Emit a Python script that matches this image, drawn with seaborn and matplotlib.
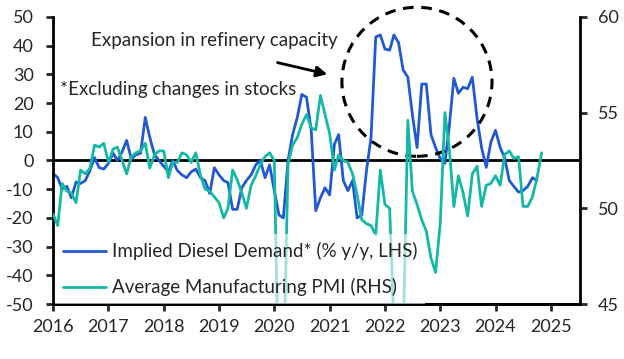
import pandas as pd
import matplotlib
matplotlib.use("Agg")
import matplotlib.pyplot as plt
import seaborn as sns
from matplotlib.patches import Ellipse

# Implied diesel demand, % y/y (LHS), monthly from Jan 2016
diesel_2016 = [-4.5, -6, -10, -9, -13, -7.5, -8, -7, -3.5, 1, -2.5, -3]
diesel_2017 = [-1, 2.5, 0, 3, 7, 0.5, 2, 2.5, 15, 8, 2, 0]
diesel_2018 = [-2, -4, 0, -3.5, -5, -6, -4, -3, -6, -7, -11.5, -2.5]
diesel_2019 = [-5, -7, -7.7, -17, -17, -9.5, -7, -5, -1.5, 0, -6, -1.5]
diesel_2020 = [-10.5, -19, -20, 0, 9, 15, 23, 22, 10.5, -17.5, -13, -9.5]
diesel_2021 = [-12, 5.6, 9, -7, -10.5, -7, -20, -19, -3.5, 8, 43, 43.7]
diesel_2022 = [38.8, 38.4, 43.7, 41, 31.5, 29, 16, 4.5, 26.6, 26.6, 9, 4.5]
diesel_2023 = [0.7, -1, 11.5, 28.6, 23.4, 25.5, 25, 29, 14.7, 4.5, -2.4, 6.3]
diesel_2024 = [10.5, 4.5, 1, -7, -9, -11, -10.5, -9, -6, -7]

# Average manufacturing PMI (RHS), monthly from Jan 2016
pmi_2016 = [49.7, 49.1, 51.3, 50.9, 50.8, 50.3, 52.0, 51.8, 52.1, 53.3, 53.2, 53.4]
pmi_2017 = [52.4, 53.1, 53.2, 52.5, 51.8, 52.7, 52.9, 53.0, 53.4, 52.1, 52.8, 53.0]
pmi_2018 = [53.0, 51.6, 52.4, 52.4, 52.9, 52.8, 52.4, 52.9, 51.7, 51.0, 50.9, 50.6]
pmi_2019 = [50.3, 49.5, 50.0, 52.0, 51.5, 50.8, 50.0, 51.2, 51.7, 52.3, 52.7, 52.9]
pmi_2020 = [52.5, 40.0, 41.0, 52.3, 53.3, 53.7, 54.4, 54.9, 54.2, 54.1, 55.9, 54.9]
pmi_2021 = [53.9, 52.0, 52.8, 52.5, 52.4, 51.8, 50.7, 49.4, 49.2, 49.1, 48.6, 52.0]
pmi_2022 = [50.2, 50.0, 44.0, 42.0, 43.0, 54.6, 50.9, 50.2, 49.4, 48.8, 47.4, 46.65]
pmi_2023 = [49.2, 55.0, 53.2, 50.1, 51.7, 50.8, 49.6, 51.8, 52.2, 50.1, 51.2, 51.3]
pmi_2024 = [51.7, 51.2, 52.8, 53.0, 52.6, 52.7, 50.1, 50.1, 50.6, 51.6, 52.9]

years = list(range(2016, 2026))
diesel_label = "Implied Diesel Demand* (% y/y, LHS)"
pmi_label = "Average Manufacturing PMI (RHS)"

diesel = (diesel_2016 + diesel_2017 + diesel_2018 + diesel_2019 + diesel_2020
          + diesel_2021 + diesel_2022 + diesel_2023 + diesel_2024)
pmi = (pmi_2016 + pmi_2017 + pmi_2018 + pmi_2019 + pmi_2020
       + pmi_2021 + pmi_2022 + pmi_2023 + pmi_2024)

df_diesel = pd.DataFrame({"date": pd.date_range("2016-01-01", periods=len(diesel), freq="MS"),
                          "value": diesel})
df_pmi = pd.DataFrame({"date": pd.date_range("2016-01-01", periods=len(pmi), freq="MS"),
                       "value": pmi})

BLUE = "#2259D2"
TEAL = "#14B8A6"
FS = 13      # tick labels
FS_TXT = 13.5  # legend and notes

sns.set_style("ticks")
plt.rcParams["font.family"] = ["Lato", "DejaVu Sans"]
plt.rcParams["axes.unicode_minus"] = False

fig, ax = plt.subplots(figsize=(6.24, 3.59), dpi=100)
fig.subplots_adjust(left=0.085, right=0.929, top=0.953, bottom=0.153)
ax2 = ax.twinx()

ax.axhline(0, color="black", lw=2, zorder=1)
sns.lineplot(data=df_diesel, x="date", y="value", ax=ax, color=BLUE, lw=2,
             label=diesel_label, legend=False)
sns.lineplot(data=df_pmi, x="date", y="value", ax=ax2, color=TEAL, lw=2,
             label=pmi_label, legend=False)

ax.set_ylim(-50, 50)
ax.set_yticks(range(-50, 51, 10))
ax2.set_ylim(45, 60)
ax2.set_yticks([45, 50, 55, 60])
ax.set_xlim(pd.Timestamp("2016-01-01"), pd.Timestamp("2025-07-10"))
ax.set_xticks([pd.Timestamp(f"{y}-01-01") for y in years])
ax.set_xticklabels([str(y) for y in years])
ax.set_xlabel("")
ax.set_ylabel("")
ax2.set_ylabel("")

for a in (ax, ax2):
    a.spines["top"].set_visible(False)
    for s in ("left", "right", "bottom"):
        a.spines[s].set_linewidth(2)
        a.spines[s].set_color("black")
ax.spines["right"].set_visible(False)
ax2.spines["left"].set_visible(False)

ax.tick_params(axis="y", length=5, width=2, pad=9, labelsize=FS)
ax2.tick_params(axis="y", length=5, width=2, pad=8, labelsize=FS)
ax.tick_params(axis="x", length=5, width=2, pad=6, labelsize=FS)

# legend with both series
handles = ax.get_lines()[1:2] + ax2.get_lines()[:1]
leg = ax2.legend(handles, [diesel_label, pmi_label], loc="lower left",
                 bbox_to_anchor=(0.004, 0.0), borderaxespad=0, fontsize=FS_TXT,
                 frameon=True, framealpha=0.6, edgecolor="none",
                 handlelength=2.3, handletextpad=0.3, labelspacing=0.95,
                 borderpad=0.42)
leg.get_frame().set_boxstyle("square", pad=0)

# annotations
ax2.text(0.072, 0.916, "Expansion in refinery capacity", transform=ax2.transAxes,
         fontsize=FS_TXT, va="center", ha="left")
ax2.text(0.013, 0.746, "*Excluding changes in stocks", transform=ax2.transAxes,
         fontsize=FS_TXT, va="center", ha="left")
ax2.annotate("", xy=(0.526, 0.798), xytext=(0.421, 0.843),
             xycoords="axes fraction", textcoords="axes fraction",
             arrowprops=dict(arrowstyle="-|>", color="black", lw=2,
                             mutation_scale=16))
ax2.add_patch(Ellipse((0.691, 0.774), 0.285, 0.519, transform=ax2.transAxes,
                      fill=False, edgecolor="black", lw=2.2,
                      linestyle=(0, (3.5, 2.5)), clip_on=False))

fig.savefig("out.png", dpi=100)
